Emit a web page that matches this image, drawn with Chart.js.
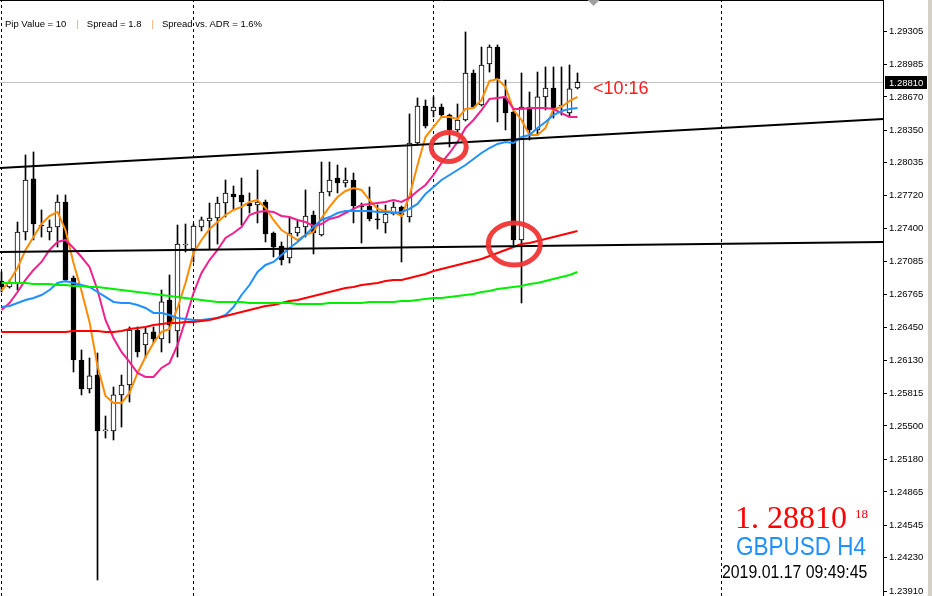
<!DOCTYPE html>
<html>
<head>
<meta charset="utf-8">
<script src="https://cdn.jsdelivr.net/npm/chart.js@4.4.1/dist/chart.umd.min.js"></script>
<style>
  html, body { margin: 0; padding: 0; background: #fff; }
  #wrap { position: relative; width: 932px; height: 596px; overflow: hidden; }
  #wrap canvas { position: absolute; left: 0; top: 0; }
  .txt { position: absolute; white-space: nowrap; line-height: 1; }
  .sep { color: #f4a460; margin: 0 8px 0 10px; }
  #frame { position: absolute; right: 0; top: 0; width: 4px; height: 596px; background: #d4d0c8; }
</style>
</head>
<body>
<div id="wrap">
  <canvas id="chart"></canvas>
  <div class="txt" style="left:5px; top:18px; font:9.5px 'Liberation Sans'; color:#000;">Pip Value = 10<span class="sep">|</span>Spread = 1.8<span class="sep">|</span>Spread vs. ADR = 1.6%</div>
  <div class="txt" style="left:593px; top:78px; font:18px 'Liberation Sans'; color:#ff1a1a;">&lt;10:16</div>
  <div class="txt" style="left:735px; top:499px; font:32px 'Liberation Serif'; color:#ff0000;">1. 28810</div>
  <div class="txt" style="left:855px; top:506px; font:13px 'Liberation Serif'; color:#ff0000;">18</div>
  <div class="txt" style="left:736px; top:532px; font:25px 'Liberation Sans'; color:#1e90ff; transform:scaleX(0.9); transform-origin:left top;">GBPUSD H4</div>
  <div class="txt" style="left:722px; top:562px; font:18px 'Liberation Sans'; color:#000; transform:scaleX(0.88); transform-origin:left top;">2019.01.17 09:49:45</div>
  <div id="frame"></div>
</div>
<script>
// GBPUSD H4 candles
const opens = [
  1.26897, 1.26839, 1.26878, 1.27369, 1.27880, 1.27436, 1.27369, 1.27417, 1.27658, 1.26926,
  1.26136, 1.25856, 1.25991, 1.25452, 1.25452, 1.25799, 1.25895, 1.26425, 1.26280, 1.26406,
  1.26338, 1.26714, 1.26415, 1.27244, 1.27205, 1.27417, 1.27475, 1.27504, 1.27648, 1.27735,
  1.27725, 1.27648, 1.27629, 1.27658, 1.27359, 1.27234, 1.27118, 1.27359, 1.27417, 1.27533,
  1.27340, 1.27754, 1.27889, 1.27841, 1.27870, 1.27619, 1.27619, 1.27494, 1.27456, 1.27542,
  1.27610, 1.27513, 1.28226, 1.28583, 1.28535, 1.28573, 1.28496, 1.28352, 1.28448, 1.28901,
  1.28592, 1.28987, 1.29151, 1.28660, 1.28525, 1.27292, 1.28573, 1.28352, 1.28670, 1.28756,
  1.28583, 1.28515, 1.28756
];
const highs = [
  1.26984, 1.26907, 1.27465, 1.28111, 1.28140, 1.27581, 1.27485, 1.27725, 1.27725, 1.26945,
  1.26232, 1.26155, 1.26203, 1.25596, 1.25876, 1.25991, 1.26454, 1.26454, 1.26444, 1.26454,
  1.26810, 1.26955, 1.27436, 1.27446, 1.27446, 1.27513, 1.27648, 1.27706, 1.27870, 1.27812,
  1.27889, 1.27745, 1.27966, 1.27677, 1.27369, 1.27273, 1.27504, 1.27485, 1.27774, 1.27571,
  1.28043, 1.28043, 1.28014, 1.27986, 1.27937, 1.27648, 1.27802, 1.27629, 1.27629, 1.27658,
  1.27619, 1.28506, 1.28660, 1.28641, 1.28670, 1.28602, 1.28506, 1.28602, 1.29296, 1.28930,
  1.29151, 1.29171, 1.29171, 1.28833, 1.28544, 1.28901, 1.28718, 1.28910, 1.28959, 1.28959,
  1.28959, 1.28978, 1.28901
];
const lows = [
  1.26791, 1.26829, 1.26810, 1.27292, 1.27292, 1.27321, 1.27292, 1.27224, 1.26887, 1.26020,
  1.25799, 1.25818, 1.24016, 1.25384, 1.25365, 1.25490, 1.25731, 1.26165, 1.26155, 1.26300,
  1.26213, 1.26300, 1.26165, 1.27176, 1.27080, 1.27379, 1.27205, 1.27253, 1.27513, 1.27581,
  1.27436, 1.27552, 1.27456, 1.27273, 1.27128, 1.27051, 1.27070, 1.27330, 1.27321, 1.27157,
  1.27330, 1.27716, 1.27745, 1.27802, 1.27456, 1.27263, 1.27475, 1.27398, 1.27359, 1.27533,
  1.27080, 1.27465, 1.28207, 1.28371, 1.28477, 1.28477, 1.28188, 1.28332, 1.28438, 1.28564,
  1.28583, 1.28910, 1.28429, 1.28352, 1.27244, 1.26685, 1.28255, 1.28303, 1.28544, 1.28467,
  1.28496, 1.28477, 1.28747
];
const closes = [
  1.26839, 1.26878, 1.27369, 1.27870, 1.27446, 1.27427, 1.27417, 1.27658, 1.26907, 1.26136,
  1.25856, 1.25982, 1.25452, 1.25462, 1.25799, 1.25895, 1.26425, 1.26213, 1.26396, 1.26338,
  1.26695, 1.26473, 1.27253, 1.27253, 1.27427, 1.27485, 1.27504, 1.27648, 1.27745, 1.27706,
  1.27658, 1.27619, 1.27658, 1.27350, 1.27224, 1.27099, 1.27359, 1.27417, 1.27523, 1.27359,
  1.27754, 1.27870, 1.27841, 1.27870, 1.27619, 1.27610, 1.27494, 1.27485, 1.27542, 1.27610,
  1.27533, 1.28226, 1.28583, 1.28390, 1.28573, 1.28496, 1.28352, 1.28448, 1.28901, 1.28573,
  1.28978, 1.29151, 1.28843, 1.28515, 1.27292, 1.28573, 1.28352, 1.28670, 1.28756, 1.28564,
  1.28592, 1.28747, 1.28810
];

// moving averages, one value per candle
const maOrange = [
  1.26801, 1.26897, 1.27022, 1.27196, 1.27321, 1.27446, 1.27523, 1.27562, 1.27388, 1.27070,
  1.26801, 1.26502, 1.26078, 1.25789, 1.25722, 1.25722, 1.25818, 1.26011, 1.26165, 1.26300,
  1.26406, 1.26434, 1.26637, 1.26878, 1.27167, 1.27292, 1.27398, 1.27465, 1.27533, 1.27581,
  1.27610, 1.27658, 1.27677, 1.27600, 1.27485, 1.27388, 1.27340, 1.27292, 1.27340, 1.27369,
  1.27504, 1.27610, 1.27706, 1.27764, 1.27793, 1.27774, 1.27677, 1.27591, 1.27571, 1.27562,
  1.27523, 1.27716, 1.28014, 1.28284, 1.28381, 1.28477, 1.28477, 1.28458, 1.28554, 1.28564,
  1.28641, 1.28824, 1.28843, 1.28766, 1.28544, 1.28448, 1.28303, 1.28303, 1.28371, 1.28554,
  1.28573, 1.28631, 1.28670
];
const maPink = [
  1.26618, 1.26685, 1.26791, 1.26907, 1.27003, 1.27080, 1.27196, 1.27273, 1.27292, 1.27215,
  1.27128, 1.27032, 1.26810, 1.26521, 1.26348, 1.26213, 1.26117, 1.26011, 1.25972, 1.25972,
  1.26059, 1.26107, 1.26280, 1.26521, 1.26781, 1.26974, 1.27099, 1.27196, 1.27311, 1.27359,
  1.27417, 1.27533, 1.27562, 1.27571, 1.27562, 1.27523, 1.27513, 1.27485, 1.27465, 1.27427,
  1.27446, 1.27494, 1.27513, 1.27552, 1.27591, 1.27629, 1.27639, 1.27648, 1.27658, 1.27677,
  1.27658, 1.27697, 1.27764, 1.27822, 1.27918, 1.28034, 1.28130, 1.28236, 1.28371, 1.28448,
  1.28544, 1.28650, 1.28660, 1.28670, 1.28554, 1.28554, 1.28564, 1.28564, 1.28564, 1.28554,
  1.28515, 1.28477, 1.28477
];
const maBlue = [
  1.26646, 1.26656, 1.26685, 1.26714, 1.26733, 1.26762, 1.26810, 1.26878, 1.26897, 1.26878,
  1.26858, 1.26839, 1.26791, 1.26743, 1.26695, 1.26685, 1.26685, 1.26666, 1.26637, 1.26589,
  1.26589, 1.26569, 1.26540, 1.26531, 1.26521, 1.26521, 1.26531, 1.26540, 1.26569, 1.26646,
  1.26762, 1.26858, 1.26984, 1.27051, 1.27080, 1.27147, 1.27215, 1.27273, 1.27340, 1.27417,
  1.27485, 1.27513, 1.27552, 1.27571, 1.27571, 1.27571, 1.27571, 1.27562, 1.27562, 1.27552,
  1.27562, 1.27591, 1.27639, 1.27735, 1.27802, 1.27870, 1.27918, 1.27966, 1.28014, 1.28072,
  1.28130, 1.28178, 1.28217, 1.28236, 1.28226, 1.28284, 1.28303, 1.28371, 1.28429, 1.28496,
  1.28535, 1.28554, 1.28564
];
const maRed = [
  1.26406, 1.26406, 1.26406, 1.26406, 1.26406, 1.26406, 1.26406, 1.26406, 1.26406, 1.26415,
  1.26415, 1.26415, 1.26415, 1.26406, 1.26406, 1.26415, 1.26434, 1.26444, 1.26454, 1.26473,
  1.26483, 1.26492, 1.26492, 1.26502, 1.26502, 1.26512, 1.26521, 1.26540, 1.26560, 1.26579,
  1.26598, 1.26618, 1.26637, 1.26656, 1.26666, 1.26685, 1.26704, 1.26714, 1.26733, 1.26752,
  1.26772, 1.26791, 1.26810, 1.26829, 1.26839, 1.26858, 1.26868, 1.26878, 1.26897, 1.26907,
  1.26907, 1.26926, 1.26945, 1.26964, 1.26993, 1.27012, 1.27032, 1.27051, 1.27070, 1.27090,
  1.27109, 1.27138, 1.27167, 1.27196, 1.27224, 1.27253, 1.27263, 1.27282, 1.27302, 1.27321,
  1.27340, 1.27359, 1.27379
];
const maGreen = [
  1.26878, 1.26878, 1.26878, 1.26878, 1.26868, 1.26868, 1.26868, 1.26858, 1.26858, 1.26849,
  1.26849, 1.26839, 1.26839, 1.26829, 1.26820, 1.26810, 1.26801, 1.26791, 1.26781, 1.26772,
  1.26762, 1.26752, 1.26743, 1.26733, 1.26723, 1.26714, 1.26704, 1.26695, 1.26695, 1.26695,
  1.26695, 1.26685, 1.26685, 1.26685, 1.26685, 1.26685, 1.26685, 1.26675, 1.26675, 1.26675,
  1.26675, 1.26685, 1.26685, 1.26685, 1.26685, 1.26685, 1.26695, 1.26695, 1.26695, 1.26695,
  1.26704, 1.26704, 1.26714, 1.26723, 1.26733, 1.26733, 1.26743, 1.26752, 1.26762, 1.26772,
  1.26791, 1.26801, 1.26820, 1.26829, 1.26839, 1.26849, 1.26868, 1.26878, 1.26897, 1.26916,
  1.26935, 1.26955, 1.26984
];

// price axis labels
const tickValues = [1.29305, 1.28985, 1.28670, 1.28350, 1.28035, 1.27720, 1.27400, 1.27085, 1.26765,
  1.26450, 1.26130, 1.25815, 1.25500, 1.25180, 1.24865, 1.24545, 1.24230, 1.23910];

// drawn objects: trend lines (price at left / right edge), period separators, circles
const trendUpper = [1.27986, 1.28458];
const trendLower = [1.27176, 1.27273];
const separatorIdx = [0, 24, 54, 90];
const ringIdx = [55.9, 64.1];
const ringPrice = [1.28188, 1.27253];
const shiftIdx = 74;

const X_MIN = -0.1875, X_MAX = 110.1875;
const Y_MIN = 1.23862, Y_MAX = 1.29604;
const idx = closes.map((_, i) => i);

const maLine = (vals, color) => ({
  type: 'line',
  data: vals.map((v, i) => ({ x: i, y: v })),
  borderColor: color,
  borderWidth: 2,
  pointRadius: 0,
  tension: 0,
  order: 1
});

const flatLine = (x0, x1, y0, y1, color, width, dash, order) => ({
  type: 'line',
  data: [{ x: x0, y: y0 }, { x: x1, y: y1 }],
  borderColor: color,
  borderWidth: width,
  borderDash: dash,
  pointRadius: 0,
  order: order
});

const datasets = [
  flatLine(X_MIN, X_MAX, trendUpper[0], trendUpper[1], '#000', 2, [], 0),
  flatLine(X_MIN, X_MAX, trendLower[0], trendLower[1], '#000', 2, [], 0),
  maLine(maGreen, '#00f000'),
  maLine(maRed, '#ff0000'),
  maLine(maBlue, '#1e90ff'),
  maLine(maPink, '#f0208c'),
  maLine(maOrange, '#ff8c00'),
  {
    type: 'bar',
    data: idx.map(i => ({ x: i, y: [opens[i], closes[i]] })),
    backgroundColor: idx.map(i => closes[i] >= opens[i] ? '#fff' : '#000'),
    borderColor: '#000',
    borderWidth: 1,
    borderSkipped: false,
    barThickness: 5,
    minBarLength: 1,
    grouped: false,
    order: 2
  },
  {
    type: 'bar',
    data: idx.map(i => ({ x: i, y: [lows[i], highs[i]] })),
    backgroundColor: '#000',
    borderWidth: 0,
    barThickness: 1,
    grouped: false,
    order: 3
  },
  flatLine(X_MIN, X_MAX, closes[closes.length - 1], closes[closes.length - 1], '#c0c0c0', 1, [], 4)
];
separatorIdx.forEach(s => datasets.push(flatLine(s, s, Y_MIN, Y_MAX, '#000', 1, [3, 3], 5)));

const extras = {
  id: 'extras',
  afterDraw(chart) {
    const { ctx, chartArea: a, scales: { x, y } } = chart;
    ctx.save();
    // frame top
    ctx.strokeStyle = '#000';
    ctx.lineWidth = 1;
    ctx.beginPath();
    ctx.moveTo(a.left, 0.5);
    ctx.lineTo(a.right, 0.5);
    ctx.stroke();
    // chart shift marker
    const sx = x.getPixelForValue(shiftIdx);
    ctx.fillStyle = '#a0a0a0';
    ctx.beginPath();
    ctx.moveTo(sx - 6, 0);
    ctx.lineTo(sx + 6, 0);
    ctx.lineTo(sx, 6);
    ctx.closePath();
    ctx.fill();
    // circles
    const rx = [17.5, 26], ry = [14.5, 21];
    ctx.strokeStyle = 'rgba(240,52,52,0.95)';
    ctx.lineWidth = 5;
    ringIdx.forEach((v, k) => {
      ctx.beginPath();
      ctx.ellipse(x.getPixelForValue(v), y.getPixelForValue(ringPrice[k]), rx[k], ry[k], 0, 0, Math.PI * 2);
      ctx.stroke();
    });
    // current price label
    const last = closes[closes.length - 1];
    const py = Math.round(y.getPixelForValue(last));
    ctx.fillStyle = '#000';
    ctx.fillRect(a.right + 2, py - 6, 42, 13);
    ctx.fillStyle = '#fff';
    ctx.font = '9.5px "Liberation Sans"';
    ctx.textBaseline = 'middle';
    ctx.fillText(last.toFixed(5), a.right + 6, py + 1);
    ctx.restore();
  }
};

new Chart(document.getElementById('chart'), {
  type: 'bar',
  data: { datasets: datasets },
  options: {
    responsive: true,
    maintainAspectRatio: false,
    animation: false,
    layout: { padding: 0 },
    plugins: { legend: { display: false }, tooltip: { enabled: false } },
    scales: {
      x: {
        type: 'linear',
        display: false,
        min: X_MIN,
        max: X_MAX,
        offset: false
      },
      y: {
        type: 'linear',
        position: 'right',
        min: Y_MIN,
        max: Y_MAX,
        afterBuildTicks: s => { s.ticks = tickValues.map(v => ({ value: v })); },
        afterFit: s => { s.width = 49; s.paddingTop = 0; s.paddingBottom = 0; },
        border: { display: true, color: '#000', width: 1 },
        grid: { drawOnChartArea: false, drawTicks: true, tickLength: 4, color: '#000' },
        ticks: {
          autoSkip: false,
          padding: 2,
          color: '#000',
          font: { family: 'Liberation Sans', size: 9.5 },
          callback: v => Number(v).toFixed(5)
        }
      }
    }
  },
  plugins: [extras]
});
</script>
</body>
</html>
